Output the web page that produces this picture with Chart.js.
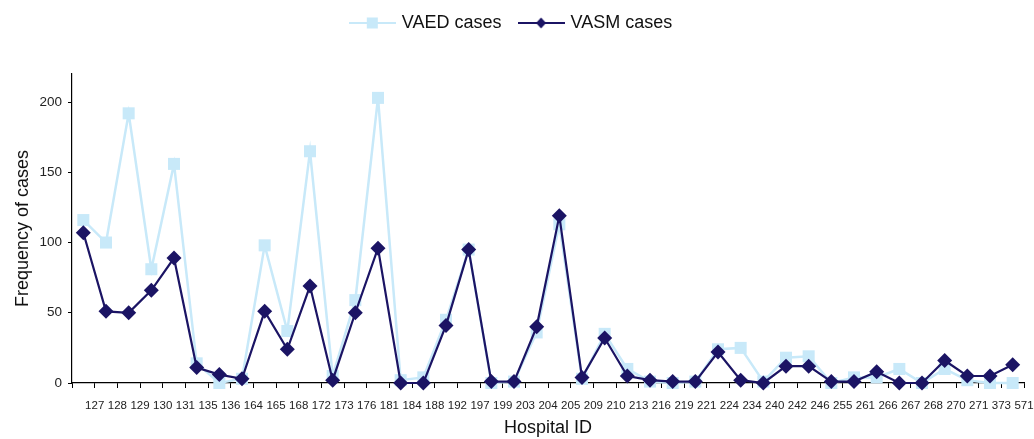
<!DOCTYPE html>
<html>
<head>
<meta charset="utf-8">
<script src="https://cdn.jsdelivr.net/npm/chart.js@4.4.1/dist/chart.umd.min.js"></script>
<style>
  html, body { margin: 0; padding: 0; background: #ffffff; }
  #wrap { width: 1034px; height: 439px; position: relative; }
</style>
</head>
<body>
<div id="wrap"><canvas id="c" width="1034" height="439"></canvas></div>
<script>
const hospitalIds = ['127','128','129','130','131','135','136','164','165','168','172','173','176','181','184','188','192','197','199','203','204','205','209','210','213','216','219','221','224','234','240','242','246','255','261','266','267','268','270','271','373','571'];
const vaedCases = [116,100,192,81,156,14,0,3,98,37,165,5,59,203,2,4,45,95,0,1,36,113,3,35,10,1,0,1,24,25,1,18,19,0,4,4,10,0,10,2,0,0];
const vasmCases = [107,51,50,66,89,11,6,3,51,24,69,2,50,96,0,0,41,95,1,1,40,119,4,32,5,2,1,1,22,2,0,12,12,1,1,8,0,0,16,5,5,13];
const yTicks = [0,50,100,150,200];

const LIGHT = '#c8e9f9';
const DARK = '#1b1464';
const FONT = "'Liberation Sans', Arial, sans-serif";

function legendIcon(color, shape) {
  const cv = document.createElement('canvas');
  cv.width = 47; cv.height = 14;
  const g = cv.getContext('2d');
  g.strokeStyle = color; g.lineWidth = 2;
  g.beginPath(); g.moveTo(0, 7); g.lineTo(47, 7); g.stroke();
  g.fillStyle = color;
  if (shape === 'rect') {
    g.fillRect(23.5 - 5.5, 7 - 5.5, 11, 11);
  } else {
    g.beginPath(); g.moveTo(23.5, 1.5); g.lineTo(28.5, 7); g.lineTo(23.5, 12.5); g.lineTo(18.5, 7); g.closePath(); g.fill();
  }
  return cv;
}

// adds extra space below the legend so the plot area starts lower
const legendGap = {
  id: 'legendGap',
  beforeLayout(chart) {
    const lg = chart.legend;
    if (lg && !lg._gapPatched) {
      const orig = lg.fit.bind(lg);
      lg.fit = function () { orig(); this.height += 32; };
      lg._gapPatched = true;
    }
  }
};

const ctx = document.getElementById('c').getContext('2d');
new Chart(ctx, {
  type: 'line',
  data: {
    labels: hospitalIds,
    datasets: [
      {
        label: 'VAED cases',
        data: vaedCases,
        borderColor: LIGHT,
        backgroundColor: LIGHT,
        borderWidth: 2.5,
        pointStyle: 'rect',
        pointRadius: 8.5,
        pointHoverRadius: 8.5,
        pointBorderWidth: 0,
        tension: 0,
        clip: false,
        order: 2
      },
      {
        label: 'VASM cases',
        data: vasmCases,
        borderColor: DARK,
        backgroundColor: DARK,
        borderWidth: 2.2,
        pointStyle: 'rectRot',
        pointRadius: 7.5,
        pointHoverRadius: 7.5,
        pointBorderWidth: 0,
        tension: 0,
        clip: false,
        order: 1
      }
    ]
  },
  plugins: [legendGap],
  options: {
    responsive: false,
    animation: false,
    layout: { padding: { left: 0, right: 10, top: -5, bottom: 0 } },
    plugins: {
      legend: {
        display: true,
        position: 'top',
        labels: {
          usePointStyle: true,
          pointStyleWidth: 41,
          color: '#111',
          font: { family: FONT, size: 18 },
          padding: 19,
          generateLabels: (chart) => chart.data.datasets.map((ds, i) => ({
            text: ds.label,
            pointStyle: legendIcon(ds.borderColor, i === 0 ? 'rect' : 'diamond'),
            fillStyle: ds.borderColor,
            strokeStyle: ds.borderColor,
            lineWidth: 0,
            hidden: false,
            datasetIndex: i,
            fontColor: '#111'
          }))
        }
      },
      tooltip: { enabled: false }
    },
    scales: {
      x: {
        type: 'category',
        offset: true,
        grid: { display: true, offset: true, drawOnChartArea: false, drawTicks: true, tickLength: 5, color: '#000' },
        border: { display: true, color: '#000', width: 1.2 },
        ticks: {
          autoSkip: false,
          maxRotation: 0,
          minRotation: 0,
          labelOffset: 11.35,
          padding: 11,
          color: '#222',
          font: { family: "'Liberation Sans Narrow', 'Liberation Sans', Arial, sans-serif", size: 11.5 }
        },
        title: {
          display: true,
          text: 'Hospital ID',
          color: '#111',
          font: { family: FONT, size: 18 },
          padding: { top: 4, bottom: 0 }
        },
        afterFit: (s) => { s.height = 56; }
      },
      y: {
        min: 0,
        max: 220,
        grid: { display: true, drawOnChartArea: false, drawTicks: true, tickLength: 4, color: '#000' },
        border: { display: true, color: '#000', width: 1.2 },
        afterBuildTicks: (s) => { s.ticks = yTicks.map(v => ({ value: v })); },
        ticks: {
          padding: 6,
          color: '#222',
          font: { family: FONT, size: 13.5 }
        },
        title: {
          display: true,
          text: 'Frequency of cases',
          color: '#111',
          font: { family: FONT, size: 18 },
          padding: { top: 12, bottom: 6 }
        },
        afterFit: (s) => { s.width = 72; }
      }
    }
  }
});
</script>
</body>
</html>
